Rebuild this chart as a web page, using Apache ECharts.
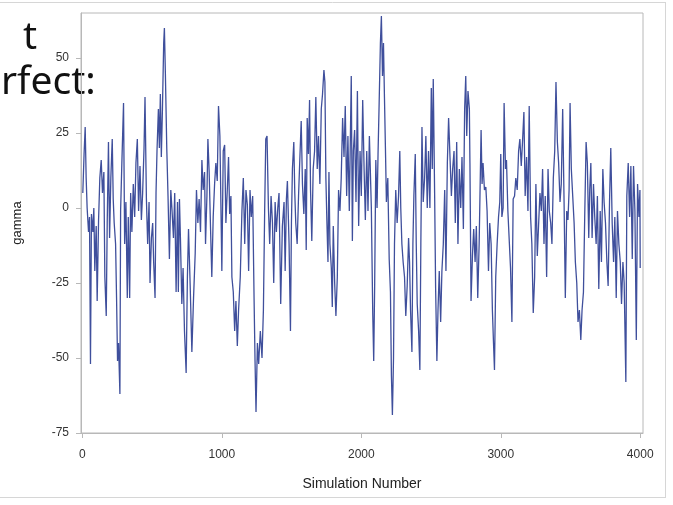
<!DOCTYPE html>
<html>
<head>
<meta charset="utf-8">
<script src="https://cdn.jsdelivr.net/npm/echarts@6/dist/echarts.min.js"></script>
<style>html,body{margin:0;padding:0;background:#fff}#c{width:673px;height:505px}</style>
</head>
<body>
<div id="c"></div>
<script>
// Simulation number (x) and gamma (y)
var simNumber = [3,12,20,27,34,44,51,58,65,75,82,89,99,106,116,125,135,144,154,161,171,178,187,195,204,214,221,228,238,245,252,259,269,274,283,295,303,312,322,329,339,346,355,365,375,384,394,403,413,423,432,442,449,459,468,478,485,495,504,511,521,528,535,545,552,559,566,574,583,588,595,605,614,624,634,643,653,662,672,682,
688,696,703,713,722,732,744,753,761,773,785,797,809,818,828,837,847,857,866,876,883,893,900,909,919,928,938,948,957,967,976,986,993,1000,1010,1020,1029,1039,1048,1056,1065,1072,1082,1092,1101,1111,1120,1132,1144,1154,1164,1173,1183,1192,1202,1211,1221,1231,1238,1245,1255,1264,1276,1288,1298,1307,1315,1324,1334,1343,1353,1363,1372,1382,
1391,1401,1410,1422,1434,1446,1454,1463,1470,1482,1492,1499,1506,1516,1523,1530,1540,1550,1559,1569,1578,1588,1598,1605,1612,1621,1629,1636,1645,1655,1665,1674,1684,1693,1703,1713,1722,1732,1739,1746,1753,1761,1768,1775,1785,1792,1799,1809,1818,1828,1837,1847,1856,1866,1876,1885,1895,1904,1914,1928,1936,1943,1952,1962,1972,1981,1991,2000,2010,2020,2029,2039,2048,2058,
2072,2082,2089,2096,2104,2113,2120,2128,2137,2144,2152,2159,2166,2173,2180,2190,2200,2209,2216,2223,2231,2238,2247,2257,2267,2276,2283,2291,2300,2310,2319,2329,2339,2346,2353,2363,2370,2377,2387,2394,2401,2411,2420,2427,2435,2444,2454,2463,2473,2482,2492,2502,2509,2516,2526,2533,2542,2550,2559,2569,2578,2588,2598,2607,2617,2626,2636,2646,2655,2665,2674,2684,2693,2703,2713,2722,2732,2741,2749,2756,2765,2775,
2779,2787,2797,2806,2816,2825,2835,2845,2859,2866,2873,2883,2893,2902,2912,2921,2931,2940,2948,2955,2964,2974,2984,2993,3000,3008,3017,3024,3034,3041,3051,3060,3070,3080,3089,3099,3108,3118,3128,3137,3147,3156,3166,3175,3185,3195,3204,3214,3223,3233,3243,3252,3262,3271,3281,3291,3300,3310,3319,3329,3339,3348,3358,3367,3377,3387,3396,3406,3415,3425,3434,3444,3454,3463,3473,
3482,3490,3497,3506,3516,3526,3535,3545,3554,3564,3574,3583,3593,3602,3612,3621,3631,3638,3646,3655,3665,3674,3684,3693,3703,3713,3722,3732,3741,3751,3761,3770,3780,3789,3799,3809,3818,3828,3837,3847,3857,3866,3876,3885,3897,3904,3914,3924,3933,3943,3952,3962,3972,3981,3991,3998,4000];
var gamma = [5,18,27,10,0,-8,-3,-52,-2,-8,0,-21,-6,-31,-4,10,16,5,12,-23,-36,-5,22,-10,10,23,3,-5,-12,-30,-51,-45,-62,-1,15,35,-12,2,-30,-3,-30,5,-8,8,-3,15,23,-1,14,-4,5,20,37,3,-12,2,-25,-10,-5,-18,-30,5,19,33,20,38,17,33,55,60,45,20,4,-17,6,-1,-10,5,-28,2,
-28,3,-10,-32,-20,-41,-55,-23,-7,-26,-48,-30,-15,6,-5,3,-8,16,6,12,-12,4,23,12,-7,-23,-3,8,15,9,34,24,2,-21,19,21,-5,6,17,-2,4,-23,-28,-41,-31,-46,-34,-23,-1,10,-12,6,1,-21,6,-3,4,-30,-51,-68,-45,-52,-41,-50,-34,-1,23,24,0,-12,4,-5,-25,2,
-8,0,5,-32,-6,2,-21,3,9,-12,-41,-5,13,22,5,-5,-12,4,16,29,8,-2,13,-14,30,18,36,6,-11,13,19,37,13,24,8,33,38,46,42,10,-4,-18,12,-12,-20,-33,-6,-25,-36,-23,6,-1,10,30,17,34,4,24,-1,44,-11,19,26,2,39,-6,19,4,36,13,-4,19,-1,24,
0,-35,-51,-25,16,0,18,35,55,64,44,55,37,20,2,10,-17,-28,-56,-69,-50,-12,6,-5,4,19,0,-12,-18,-23,-36,-26,-10,-18,-34,-48,-12,4,18,-12,-32,-41,-54,-12,27,2,10,24,0,19,0,40,13,43,4,-27,-51,-34,-21,-38,-21,-12,6,-21,15,30,17,4,13,19,-5,22,-12,13,0,17,-7,33,44,24,39,33,
15,-31,-16,-7,-18,-6,-30,-12,26,8,15,6,7,-1,-21,-5,-12,-34,-45,-54,-23,-12,-3,2,18,-3,0,35,13,16,-1,-10,-20,-38,3,4,10,6,19,23,14,22,32,4,17,-1,34,-3,-12,-35,-23,8,-16,-6,5,-1,13,-12,4,-23,13,-1,-5,-12,10,19,42,22,15,2,8,33,2,-30,-1,
-4,6,35,13,4,-5,-18,-25,-38,-34,-44,-34,-28,-3,22,15,-10,6,15,-10,8,-3,-12,4,-27,-1,-18,13,2,-5,-18,-26,2,20,-5,-18,-3,-30,-1,-12,-18,-32,-18,-25,-58,4,15,-3,14,-17,14,-1,-44,8,-3,6,-20];
var xTicks = [0, 1000, 2000, 3000, 4000];
var yTicks = [-75, -50, -25, 0, 25, 50];

var pts = simNumber.map(function (x, i) { return [x, gamma[i]]; });
var chart = echarts.init(document.getElementById('c'), null, {renderer: 'canvas'});
var labelFont = {fontFamily: 'Liberation Sans, Arial, sans-serif', fontSize: 12, color: '#333'};
var plain = function (v) { return String(v); };
chart.setOption({
  animation: false,
  backgroundColor: '#fff',
  grid: {left: 81, right: 30, top: 13, bottom: 72, show: true, borderColor: '#b8b8b8', borderWidth: 1},
  xAxis: {
    type: 'value', min: -10, max: 4020,
    name: 'Simulation Number', nameLocation: 'middle', nameGap: 44,
    nameTextStyle: {fontFamily: 'Liberation Sans, Arial, sans-serif', fontSize: 14, color: '#222'},
    axisLine: {show: true, onZero: false, lineStyle: {color: '#b8b8b8'}},
    axisTick: {show: true, length: 5, lineStyle: {color: '#b8b8b8'}, customValues: xTicks},
    axisLabel: Object.assign({margin: 16, customValues: xTicks, formatter: plain}, labelFont),
    splitLine: {show: false}
  },
  yAxis: {
    type: 'value', min: -75, max: 65,
    name: 'gamma', nameLocation: 'middle', nameGap: 57, nameRotate: 90,
    nameTextStyle: {fontFamily: 'Liberation Sans, Arial, sans-serif', fontSize: 13, color: '#222'},
    axisLine: {show: true, onZero: false, lineStyle: {color: '#b8b8b8'}},
    axisTick: {show: true, length: 5, lineStyle: {color: '#b8b8b8'}, customValues: yTicks},
    axisLabel: Object.assign({margin: 12, customValues: yTicks, formatter: plain}, labelFont),
    splitLine: {show: false}
  },
  series: [{
    type: 'line', data: pts, showSymbol: false, symbol: 'none',
    lineStyle: {color: '#3f4f9c', width: 1.3}, silent: true
  }],
  graphic: [
    {type: 'line', shape: {x1: 0, y1: 2.5, x2: 665, y2: 2.5}, style: {stroke: '#d6d6d6', lineWidth: 1}},
    {type: 'line', shape: {x1: 665.5, y1: 2, x2: 665.5, y2: 497}, style: {stroke: '#d6d6d6', lineWidth: 1}},
    {type: 'line', shape: {x1: 0, y1: 497.5, x2: 666, y2: 497.5}, style: {stroke: '#d6d6d6', lineWidth: 1}},
    {type: 'text', left: 23, top: 18, style: {text: 't', fontFamily: 'Noto Sans, Open Sans, sans-serif', fontSize: 39, fill: '#111'}},
    {type: 'text', left: 1, top: 63, style: {text: 'rfect:', fontFamily: 'Noto Sans, Open Sans, sans-serif', fontSize: 39, fill: '#111'}}
  ]
});
</script>
</body>
</html>
